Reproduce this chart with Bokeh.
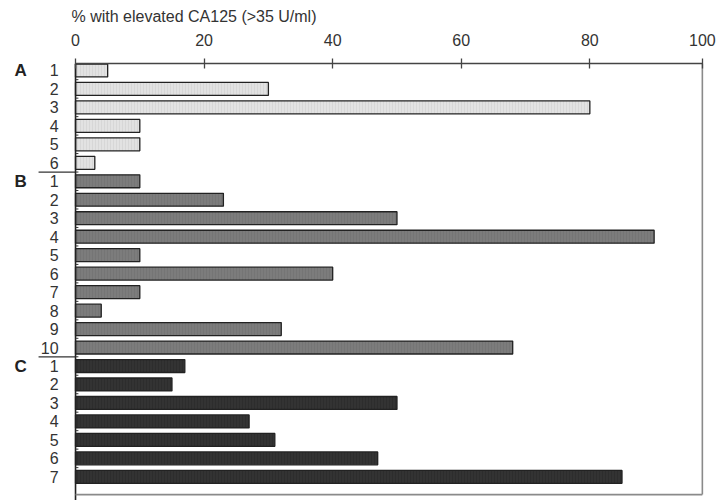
from bokeh.plotting import figure
from bokeh.models import Range1d, FixedTicker, Title, ColumnDataSource
from bokeh.core.properties import value
from bokeh.embed import file_html
from bokeh.resources import INLINE

# ---- data ----
groups = ["A", "B", "C"]
a_values = [5, 30, 80, 10, 10, 3]
b_values = [10, 23, 50, 90, 10, 40, 10, 4, 32, 68]
c_values = [17, 15, 50, 27, 31, 47, 85]
x_tick_labels = ["0", "20", "40", "60", "80", "100"]
x_tick_values = [0, 20, 40, 60, 80, 100]
axis_title = "% with elevated CA125 (>35 U/ml)"

# in the reference image the frame (and the "100" tick) ends at about 97.5 on the
# scale set by the 0-80 ticks
FRAME_END = 97.5

FONT = "Liberation Sans"
group_values = [a_values, b_values, c_values]
group_fill = ["#e2e2e2", "#7c7c7c", "#333333"]
group_hatch = ["#b8b8b8", "#606060", "#1e1e1e"]

x_start, x_end = -11.67, 99.7
y_top, y_bottom = -0.376, 23.28
bottom_line = 22.96

p = figure(width=716, height=500,
           x_range=Range1d(x_start, x_end), y_range=Range1d(y_bottom, y_top),
           x_axis_location="above", y_axis_location=None,
           output_backend="svg", toolbar_location=None,
           min_border_left=0, min_border_right=0, min_border_bottom=0, min_border_top=60)
p.grid.visible = False
p.outline_line_color = None
p.background_fill_color = "white"

title = Title(text=axis_title, align="left", offset=71, text_font=FONT,
              text_font_size="16px", text_font_style="normal", text_color="#333333",
              standoff=11)
p.add_layout(title, "above")

ticks_pos = [v if v < 100 else FRAME_END for v in x_tick_values]
ax = p.xaxis[0]
ax.ticker = FixedTicker(ticks=ticks_pos)
ax.major_label_overrides = {t: lab for t, lab in zip(ticks_pos, x_tick_labels)}
ax.bounds = (0, FRAME_END)
ax.minor_tick_line_color = None
ax.major_tick_in = 5
ax.major_tick_out = 5
ax.axis_line_color = "#444444"
ax.axis_line_width = 1.3
ax.major_tick_line_color = "#444444"
ax.major_tick_line_width = 1.3
ax.major_label_text_font = FONT
ax.major_label_text_font_size = "16px"
ax.major_label_text_color = "#333333"
ax.major_label_standoff = 13

row = 0
first_rows = []
boundaries = []
for g, vals, fc, hc in zip(groups, group_values, group_fill, group_hatch):
    ys = list(range(row, row + len(vals)))
    first_rows.append(row)
    src = ColumnDataSource(dict(y=ys, v=vals, lab=[str(i + 1) for i in range(len(vals))]))
    p.hbar(y="y", left=0, right="v", height=0.7, source=src,
           fill_color=fc, line_color="#222222", line_width=1.3,
           hatch_pattern="vertical_line", hatch_color=hc, hatch_alpha=0.45,
           hatch_scale=3, hatch_weight=0.6)
    p.text(x=-2.64, y="y", text="lab", source=src, text_align="right",
           text_baseline="middle", text_font=value(FONT), text_font_size="16px",
           text_color="#333333")
    row += len(vals)
    boundaries.append(row - 0.5)

p.text(x=[-8.55] * 3, y=first_rows, text=groups, text_align="center",
       text_baseline="middle", text_font=value(FONT), text_font_size="17px",
       text_font_style="bold", text_color="#222222")

# group separators at the left
sep = boundaries[:-1]
p.segment(x0=[-5.75] * len(sep), x1=[0] * len(sep), y0=sep, y1=sep,
          line_color="#333333", line_width=1.2)

# left axis line with small row ticks
p.segment(x0=[0], x1=[0], y0=[y_top], y1=[y_bottom], line_color="#222222", line_width=1.6)
rb = [i + 0.5 for i in range(row - 1)]
p.segment(x0=[0] * len(rb), x1=[0.45] * len(rb), y0=rb, y1=rb,
          line_color="#333333", line_width=1)

# right and bottom frame lines
p.segment(x0=[FRAME_END, 0], x1=[FRAME_END, FRAME_END],
          y0=[y_top, bottom_line], y1=[bottom_line, bottom_line],
          line_color="#8a8a8a", line_width=1.6)

open("out.html", "w").write(file_html(p, INLINE))
